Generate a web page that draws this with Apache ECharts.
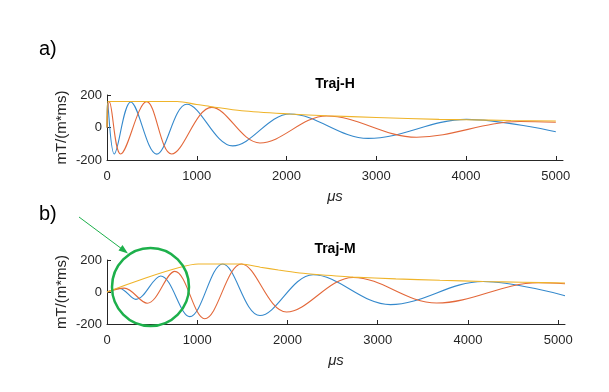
<!DOCTYPE html>
<html>
<head>
<meta charset="utf-8">
<script src="https://cdn.jsdelivr.net/npm/echarts@6/dist/echarts.min.js"></script>
<style>
  html, body { margin: 0; padding: 0; background: #fff; }
  #chart { width: 609px; height: 392px; }
</style>
</head>
<body>
<div id="chart"></div>
<script>
// tick values
const xTicks = [0, 1000, 2000, 3000, 4000, 5000];
const yTicks = [-200, 0, 200];

// Traj-H (top): peaks and troughs, [time us, gradient]
const topBlue = [[0,0],[6,150],[81,-163],[264,157],[553,-164],[890,143],[1400,-113],[2038,83],
  [2910,-67],[4005,50],[5000,-26]];
const topOrange = [[0,0],[26,158],[152,-163],[442,159],[720,-163],[1166,124],[1704,-95],[2446,71],
  [3449,-60],[4600,37],[5000,32]];
const topYellow = [[0,0],[8,160],[780,160],[1000,142],[1166,128],[1500,103],[2038,83],[2446,72],[3000,62],
  [3700,50],[4005,48],[4500,43],[5000,40]];

// Traj-M (bottom)
const botBlue = [[0,0],[140,22],[320,-46],[595,100],[917,-154],[1282,175],[1695,-147],[2284,108],
  [3140,-79],[4168,66],[5075,-23]];
const botOrange = [[0,0],[190,24],[445,-70],[751,129],[1083,-167],[1490,175],[1989,-125],[2728,91],
  [3652,-69],[4780,58],[5075,52]];
const botYellow = [[0,0],[1010,175],[1490,175],[1700,155],[1900,137],[2136,119],[2358,108],[2728,93],
  [3200,82],[3688,73],[4168,66],[4600,61],[5075,56]];

const axisColor = '#262626';
const font = 'Liberation Sans, Arial, sans-serif';

function xAxisFor(idx, max) {
  return {
    type: 'value', gridIndex: idx, min: 0, max: max, interval: 1000,
    name: 'μs', nameLocation: 'middle', nameGap: 29, nameMoveOverlap: false,
    nameTextStyle: { color: axisColor, fontSize: 15, fontStyle: 'italic', fontFamily: font },
    axisLine: { show: true, onZero: false, lineStyle: { color: axisColor, width: 1 } },
    axisTick: { show: true, inside: true, length: 4, customValues: xTicks, lineStyle: { color: axisColor } },
    axisLabel: { color: axisColor, fontSize: 13, fontFamily: font, margin: 10, customValues: xTicks,
      formatter: function (v) { return String(v); } },
    splitLine: { show: false }
  };
}
function yAxisFor(idx) {
  return {
    type: 'value', gridIndex: idx, min: -200, max: 200, interval: 200,
    name: 'mT/(m*ms)', nameLocation: 'middle', nameGap: 38, nameMoveOverlap: false,
    nameTextStyle: { color: axisColor, fontSize: 15, fontFamily: font },
    axisLine: { show: true, onZero: false, lineStyle: { color: axisColor, width: 1 } },
    axisTick: { show: true, inside: true, length: 4, customValues: yTicks, lineStyle: { color: axisColor } },
    axisLabel: { color: axisColor, fontSize: 13, fontFamily: font, margin: 5, customValues: yTicks,
      formatter: function (v) { return String(v); } },
    splitLine: { show: false }
  };
}
function line(data, color, idx, smooth) {
  return {
    type: 'line', data: data, xAxisIndex: idx, yAxisIndex: idx,
    showSymbol: false, smooth: smooth, animation: false,
    lineStyle: { color: color, width: 1.1 }
  };
}

const chart = echarts.init(document.getElementById('chart'));
chart.setOption({
  backgroundColor: '#fff',
  animation: false,
  title: [
    { text: 'Traj-H', left: 335, top: 77, textAlign: 'center', padding: 0,
      textStyle: { fontSize: 14, fontWeight: 'bold', color: '#000', fontFamily: font } },
    { text: 'Traj-M', left: 335, top: 242, textAlign: 'center', padding: 0,
      textStyle: { fontSize: 14, fontWeight: 'bold', color: '#000', fontFamily: font } },
    { text: 'a)', left: 39, top: 39, padding: 0,
      textStyle: { fontSize: 20, fontWeight: 'normal', color: '#000', fontFamily: font } },
    { text: 'b)', left: 39, top: 204, padding: 0,
      textStyle: { fontSize: 20, fontWeight: 'normal', color: '#000', fontFamily: font } }
  ],
  grid: [
    { left: 107, right: 46, top: 95, height: 65 },
    { left: 107, right: 44, top: 260, height: 64 }
  ],
  xAxis: [xAxisFor(0, 5080), xAxisFor(1, 5075)],
  yAxis: [yAxisFor(0), yAxisFor(1)],
  series: [
    line(topBlue, '#3589CC', 0, 0.36),
    line(topOrange, '#E3683A', 0, 0.36),
    line(topYellow, '#EFB42A', 0, 0.3),
    line(botBlue, '#3589CC', 1, 0.36),
    line(botOrange, '#E3683A', 1, 0.36),
    line(botYellow, '#EFB42A', 1, 0.2)
  ],
  graphic: [
    { type: 'ellipse', shape: { cx: 150.5, cy: 287, rx: 38.5, ry: 39 },
      style: { fill: 'none', stroke: '#1DB04B', lineWidth: 2.5 }, z: 100 },
    { type: 'line', shape: { x1: 79, y1: 217, x2: 122, y2: 249 },
      style: { stroke: '#1DB04B', lineWidth: 1 }, z: 100 },
    { type: 'polygon', shape: { points: [[128, 253.5], [118.5, 250.5], [122.5, 245]] },
      style: { fill: '#1DB04B' }, z: 100 }
  ]
});
</script>
</body>
</html>
